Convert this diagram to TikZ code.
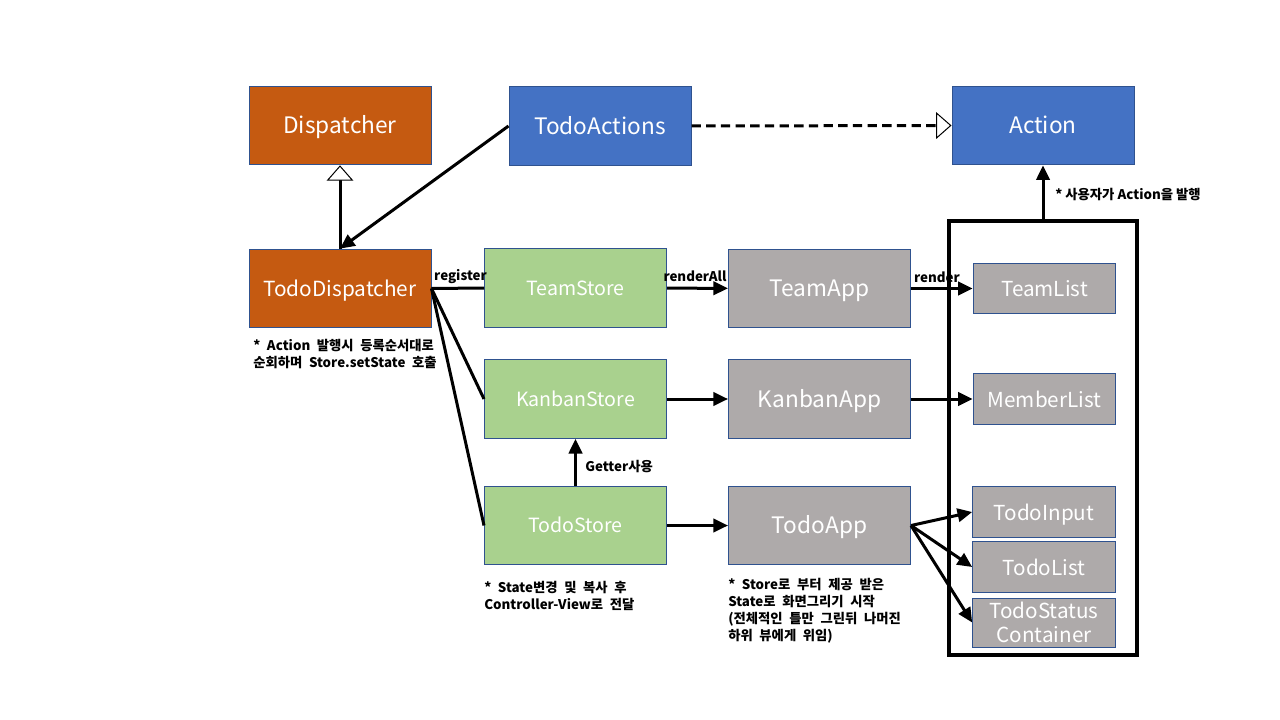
\documentclass[tikz,border=0pt]{standalone}
\usepackage{fontspec}
\setmainfont{Noto Sans CJK KR}
\usetikzlibrary{arrows.meta}
\definecolor{dispatchorange}{HTML}{C55A11}
\definecolor{actionblue}{HTML}{4472C4}
\definecolor{storegreen}{HTML}{A9D18E}
\definecolor{viewgray}{HTML}{AEAAAA}
\definecolor{edgeblue}{HTML}{2F528F}
\newcommand\widespaces{\spaceskip=0.5em\relax}

\begin{document}
\begin{tikzpicture}[x=0.75pt,y=-0.75pt,box/.style={draw=edgeblue, line width=0.75pt, text=white, minimum width=136.5pt, minimum height=59pt, inner sep=0pt, text height=14.2pt, text depth=1.5pt, font=\fontsize{17}{20}\selectfont},storebox/.style={box, fill=storegreen, text height=12.6pt, text depth=1.6pt, font=\fontsize{14.7}{18}\selectfont},appbox/.style={box, fill=viewgray},listbox/.style={box, fill=viewgray, minimum width=107pt, minimum height=38pt, text height=14.2pt, text depth=1.6pt, font=\fontsize{15.5}{19}\selectfont},flow/.style={-{Triangle[length=11pt,width=10pt]}, line width=2.25pt},link/.style={line width=2.25pt},inherit/.style={-{Triangle[fill=white,length=11.5pt,width=20pt,line width=0.75pt]}, line width=2.25pt},note/.style={align=left, inner sep=0pt, font=\bfseries\fontsize{10}{12.75}\selectfont, execute at begin node=\widespaces},tag/.style={inner sep=0pt, font=\bfseries\fontsize{10}{12}\selectfont}]
\useasboundingbox (0,0) rectangle (1280,720);
% top row
\node[box, fill=dispatchorange] (disp) at (340,125.5) {Dispatcher};
\node[box, fill=actionblue] (acts) at (600,126) {TodoActions};
\node[box, fill=actionblue] (action) at (1043,125.5) {Action};
% dispatcher, stores, controller-views
\node[box, fill=dispatchorange, font=\fontsize{15.6}{19}\selectfont] (tdisp) at (340,288.5) {TodoDispatcher};
\node[storebox] (teamstore) at (575.5,288) {TeamStore}; \node[storebox] (kanbanstore) at (575.5,399) {KanbanStore}; \node[storebox] (todostore) at (575.5,525.5) {TodoStore};
\node[appbox] (teamapp) at (819.5,288.5) {TeamApp}; \node[appbox] (kanbanapp) at (819.5,399) {KanbanApp}; \node[appbox] (todoapp) at (819.5,525.5) {TodoApp};
% views
\node[draw, line width=3pt, minimum width=141pt, minimum height=325.5pt, inner sep=0pt] (views) at (1043,438) {};
\node[listbox] (teamlist) at (1044.5,288.5) {TeamList}; \node[listbox] (memberlist) at (1044.5,399) {MemberList};
\node[listbox] (todoinput) at (1044,512) {TodoInput}; \node[listbox] (todolist) at (1044,567) {TodoList};
\node[draw=edgeblue, line width=0.75pt, fill=viewgray, text=white, inner sep=0pt, align=center, minimum width=107pt, minimum height=36.75pt, font=\fontsize{15.5}{18.5}\selectfont] (todostatus) at (1044,622.5) {TodoStatus\\Container};
% connectors
\draw[inherit] (tdisp.north) -- (disp.south); \draw[flow] (acts.west) -- (tdisp.north);
\draw[inherit, dashed, dash pattern=on 7pt off 4pt] (acts.east) -- (action.west);
\draw[flow] (views.north) -- (action.south);
\draw[link] (tdisp.east) -- (teamstore.west); \draw[link] (tdisp.east) -- (kanbanstore.west); \draw[link] (tdisp.east) -- (todostore.west);
\draw[flow] (teamstore) -- (teamapp); \draw[flow] (kanbanstore) -- (kanbanapp); \draw[flow] (todostore) -- (todoapp);
\draw[flow] (todostore) -- (kanbanstore);
\draw[flow] (teamapp) -- (teamlist); \draw[flow] (kanbanapp) -- (memberlist);
\draw[flow] (todoapp.east) -- (todoinput.west); \draw[flow] (todoapp.east) -- (todolist.west); \draw[flow] (todoapp.east) -- (todostatus.west);
% labels
\node[tag] (regtag) at (460.5,277) {register}; \node[tag] (renderalltag) at (695,276) {renderAll}; \node[tag] (rendertag) at (937,277) {render};
\node[tag, anchor=west] (gettertag) at (585,467) {Getter사용};
\node[tag, anchor=west] (usertag) at (1055,195) {* 사용자가 Action을 발행};
\node[note, anchor=north west] (dispnote) at (253,339) {* Action 발행시 등록순서대로\\순회하며 Store.setState 호출};
\node[note, anchor=north west] (storenote) at (484,581) {* State변경 및 복사 후\\Controller-View로 전달};
\node[note, anchor=north west] (appnote) at (728,577.5) {* Store로 부터 제공 받은\\State로 화면그리기 시작\\(전체적인 틀만 그린뒤 나머진\\하위 뷰에게 위임)};
\end{tikzpicture}
\end{document}
